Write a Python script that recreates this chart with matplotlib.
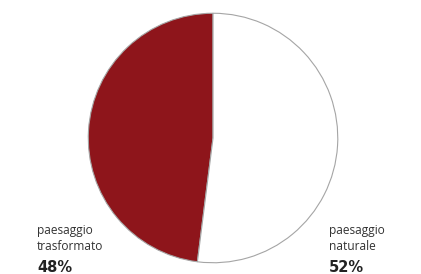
import matplotlib.pyplot as plt

# shares of the landscape
labels = ['paesaggio\ntrasformato', 'paesaggio\nnaturale']
values = [48, 52]
colors = ['#8e151b', '#ffffff']

fig = plt.figure(figsize=(4.21, 2.74), dpi=100)
ax = fig.add_axes([0.2067, 0.0365, 0.5986, 0.9197])

ax.pie(values, colors=colors, startangle=90, counterclock=True,
       wedgeprops=dict(edgecolor='#a5a5a5', linewidth=0.8))
ax.set_xlim(-1.01, 1.01)
ax.set_ylim(-1.01, 1.01)
ax.set_aspect('equal')
ax.axis('off')

# labels at the bottom corners
pos = [(0.088, 0.077), (0.782, 0.077)]
for lab, v, (x, y) in zip(labels, values, pos):
    fig.text(x, y, lab, fontsize=8.6, family='Open Sans', color='#333333',
             va='bottom', ha='left', linespacing=1.3)
    fig.text(x, 0.052, f'{v}%', fontsize=10.5, fontweight='bold',
             family='DejaVu Sans', color='#222222', va='top', ha='left')

fig.savefig('out.png', dpi=100)
